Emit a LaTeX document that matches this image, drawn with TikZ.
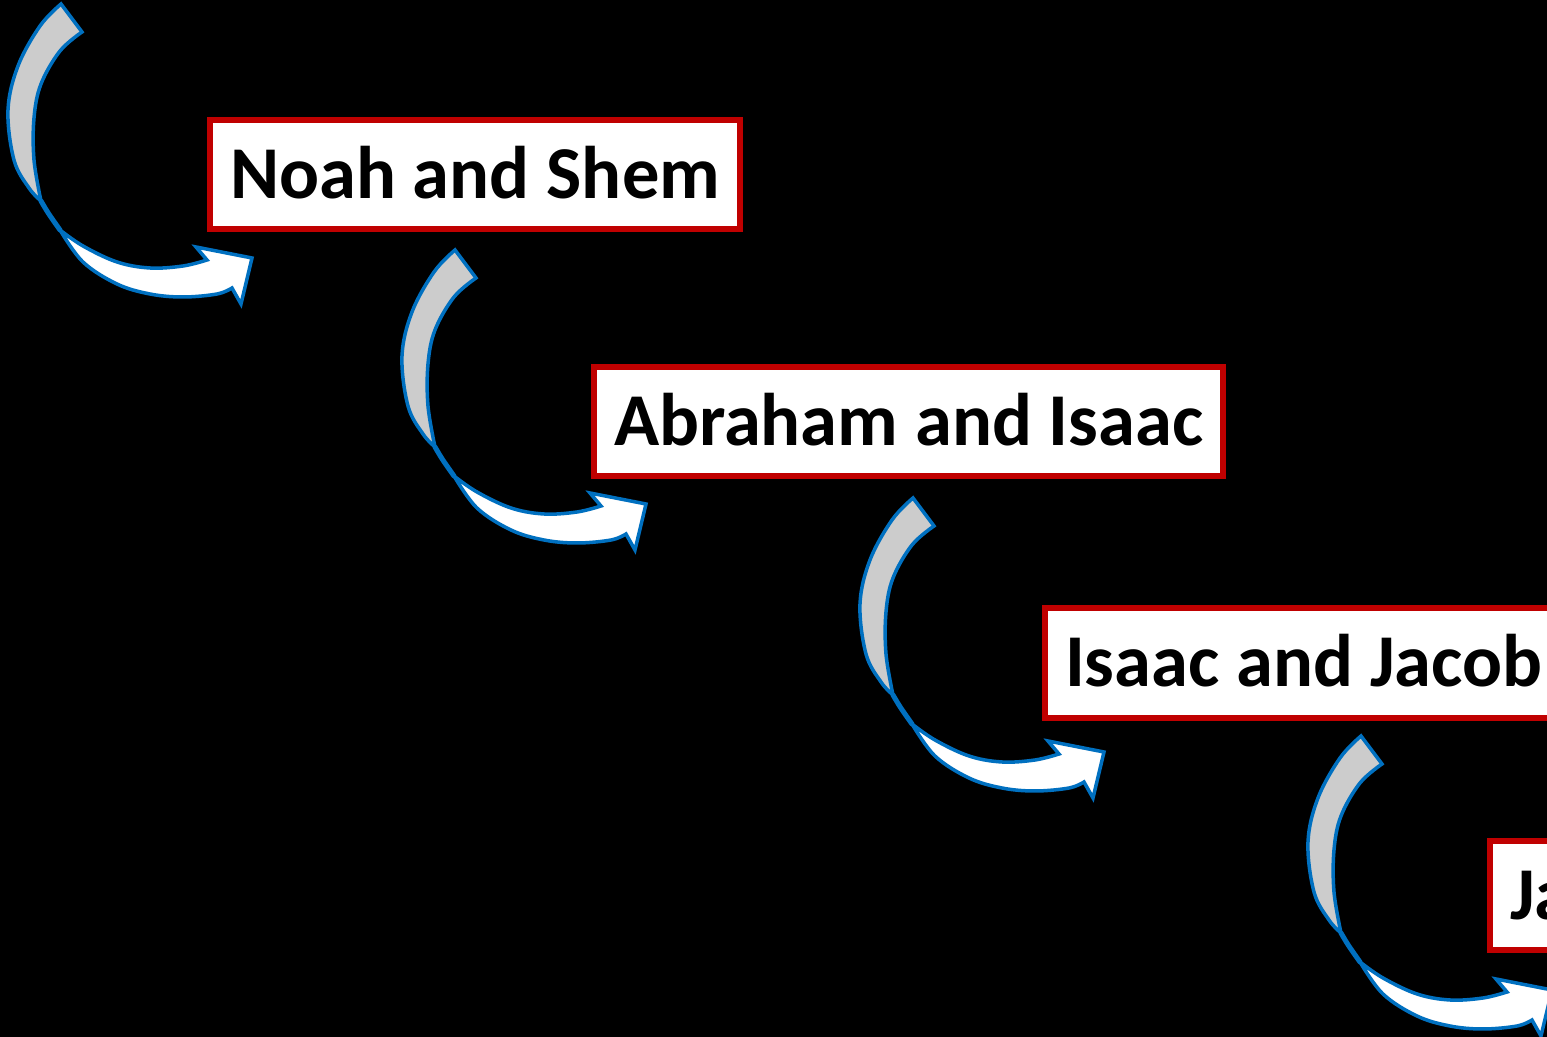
\documentclass[tikz,border=0pt]{standalone}
\usepackage{fontspec}
\setmainfont{Carlito}
\usepackage{xcolor}
\usepackage{tikz}
\usetikzlibrary{positioning}

\definecolor{boxred}{HTML}{C00000}
\definecolor{arrowblue}{HTML}{0070C0}
\definecolor{ribbongray}{HTML}{CCCCCC}

\begin{document}
\begin{tikzpicture}[
    x=0.01cm, y=-0.01cm,
    namebox/.style={rectangle, draw=boxred, fill=white, line width=0.06cm, minimum height=1.09cm, inner xsep=0.2cm, text height=0.47cm, text depth=0cm, anchor=west, font=\fontsize{21.2}{25}\selectfont\bfseries},
    ribbon/.style={draw=arrowblue, line width=0.035cm, line join=miter},
]

% Background
\useasboundingbox (0,0) rectangle (1547,1037);
\fill[black] (0,0) rectangle (1547,1037);
\clip (0,0) rectangle (1547,1037);

% Curved arrows
\foreach \ax/\ay in {61/4, 455/250, 913/498, 1361/736} {
  \begin{scope}[shift={(\ax,\ay)}]
    \filldraw[ribbon, fill=ribbongray] (0,0) -- (21,28)
      -- plot[smooth, tension=0.6] coordinates {(21,28) (-1,47) (-20,80) (-27,114) (-27,156) (-20,197)}
      -- plot[smooth, tension=0.6] coordinates {(-20,197) (-32,184) (-47,156) (-53,106) (-43,62) (-21,22) (0,0)}
      -- cycle;
    \filldraw[ribbon, fill=white] (-1,226)
      -- plot[smooth, tension=0.6] coordinates {(-1,226) (22,242) (56,258) (89,264) (122,262) (146,256)}
      -- (135,243) -- (191,254) -- (180,300) -- (171,284)
      -- plot[smooth, tension=0.6] coordinates {(171,284) (156,290) (122,293) (89,290) (56,280) (22,258) (-1,226)}
      -- cycle;
    \draw[ribbon, line width=0.05cm, line cap=round] (-20,197) .. controls (-13,209) .. (-1,226);
  \end{scope}
}

% Names
\node[namebox] (noah) at (207,174.5) {Noah and Shem};
\node[namebox] (abraham) at (591,421.5) {Abraham and Isaac};
\node[namebox] (isaac) at (1042,663) {Isaac and Jacob};
\node[namebox, text width=4.8cm, align=left] (jacob) at (1487,895.5) {Ja};

\end{tikzpicture}
\end{document}
